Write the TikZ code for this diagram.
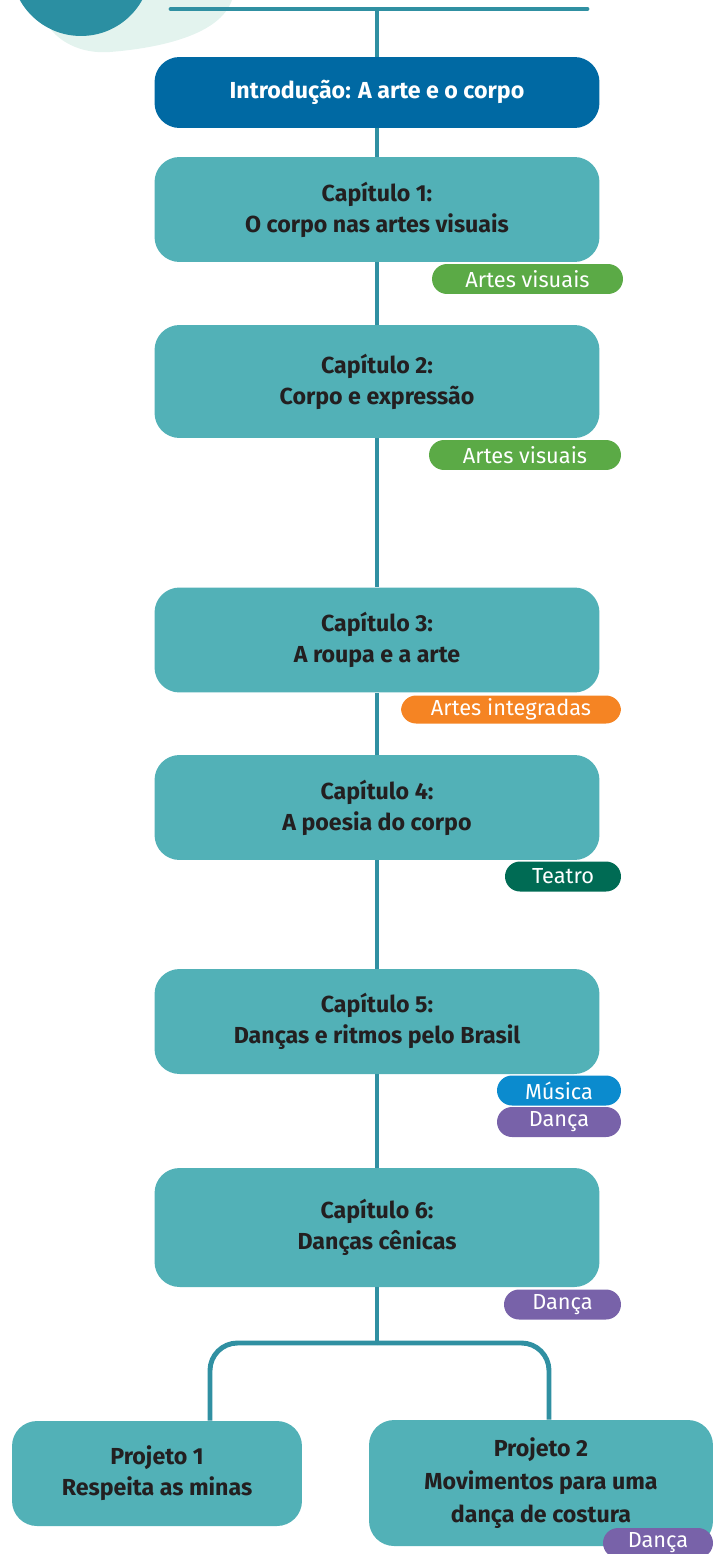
\documentclass[tikz,border=0pt]{standalone}
\usepackage{fontspec}
\setmainfont{Fira Sans}

\definecolor{introblue}{HTML}{0069A3}
\definecolor{chapteal}{HTML}{52B1B7}
\definecolor{trunkblue}{HTML}{3090A2}
\definecolor{textdark}{HTML}{231F20}
\definecolor{tagvisual}{HTML}{5BAA46}
\definecolor{tagintegr}{HTML}{F58423}
\definecolor{tagteatro}{HTML}{006B54}
\definecolor{tagmusica}{HTML}{0B8BCE}
\definecolor{tagdanca}{HTML}{7862A9}
\definecolor{palegreen}{HTML}{E3F3EE}
\definecolor{circleteal}{HTML}{2B8FA2}

\begin{document}
\begin{tikzpicture}[x=0.02cm, y=-0.02cm,
    chapbox/.style={rectangle, rounded corners=0.5cm, fill=chapteal, text=textdark,
        font=\bfseries\fontsize{13.2}{17.6}\selectfont, align=center,
        minimum width=8.9cm, minimum height=2.1cm, inner sep=0pt},
    tagbox/.style={rectangle, rounded corners=0.3cm, text=white,
        font=\fontsize{12.4}{14}\selectfont, minimum height=0.6cm, inner sep=0pt},
    trunk/.style={draw=trunkblue, line width=2.8pt}]
    \useasboundingbox (0,0) rectangle (713,1554);

    % corner decoration
    \fill[palegreen] (40,0) .. controls (40,30) and (70,55) .. (110,52)
        .. controls (160,48) and (220,35) .. (232,0) -- cycle;
    \fill[circleteal] (81,-34) circle[radius=1.4cm];

    % nodes
    \coordinate (tl) at (171,9);
    \coordinate (tr) at (587,9);
    \coordinate (top) at (377,9);
    \node (intro) at (377,92.5) [chapbox, fill=introblue, text=white, minimum height=1.42cm] {Introdução: A arte e o corpo};
    \node (cap1) at (377,209.5) [chapbox] {Capítulo 1:\\O corpo nas artes visuais};
    \node (cap2) at (377,381.5) [chapbox, minimum height=2.26cm] {Capítulo 2:\\Corpo e expressão};
    \node (cap3) at (377,640) [chapbox] {Capítulo 3:\\A roupa e a arte};
    \node (cap4) at (377,807.5) [chapbox] {Capítulo 4:\\A poesia do corpo};
    \node (cap5) at (377,1021.5) [chapbox] {Capítulo 5:\\Danças e ritmos pelo Brasil};
    \node (cap6) at (377,1227.5) [chapbox, minimum height=2.38cm] {Capítulo 6:\\Danças cênicas};
    \coordinate (split) at (377,1343);
    \node (proj1) at (157,1473.5) [chapbox, minimum width=5.8cm] {Projeto 1\\Respeita as minas};
    \node (proj2) at (541,1483) [chapbox, minimum width=6.88cm, minimum height=2.52cm,
        font=\bfseries\fontsize{13.2}{18.8}\selectfont] {Projeto 2\\Movimentos para uma\\dança de costura};

    \node (tag1) at (527.5,279) [tagbox, fill=tagvisual, minimum width=3.82cm] {Artes visuais};
    \node (tag2) at (525,455) [tagbox, fill=tagvisual, minimum width=3.84cm] {Artes visuais};
    \node (tag3) at (511,709.5) [tagbox, fill=tagintegr, minimum width=4.4cm, minimum height=0.56cm] {Artes integradas};
    \node (tag4) at (563,876.5) [tagbox, fill=tagteatro, minimum width=2.32cm] {Teatro};
    \node (tag5a) at (559,1090.5) [tagbox, fill=tagmusica, minimum width=2.48cm] {Música};
    \node (tag5b) at (559,1122) [tagbox, fill=tagdanca, minimum width=2.48cm] {Dança};
    \node (tag6) at (562.5,1304.5) [tagbox, fill=tagdanca, minimum width=2.34cm] {Dança};
    \node (tag7) at (658,1543) [tagbox, fill=tagdanca, minimum width=2.2cm] {Dança};

    % paths
    \draw[trunk, line cap=round] (tl) -- (tr);
    \draw[trunk] (top) -- (intro);
    \draw[trunk] (intro) -- (cap1);
    \draw[trunk] (cap1) -- (cap2);
    \draw[trunk] (cap2) -- (cap3);
    \draw[trunk] (cap3) -- (cap4);
    \draw[trunk] (cap4) -- (cap5);
    \draw[trunk] (cap5) -- (cap6);
    \draw[trunk] (cap6) -- (split);
    \draw[trunk, rounded corners=0.55cm] (split) -| ([xshift=1.06cm]proj1.north);
    \draw[trunk, rounded corners=0.55cm] (split) -| ([xshift=0.16cm]proj2.north);
\end{tikzpicture}
\end{document}
